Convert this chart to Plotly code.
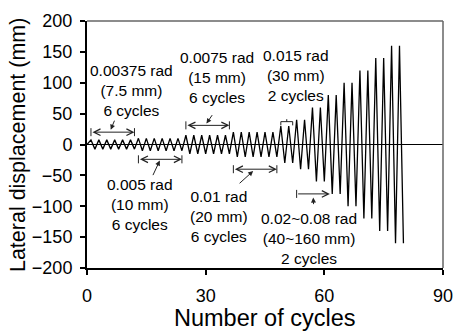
import plotly.graph_objects as go

# Loading protocol
amplitudes_mm = [7.5, 10, 15, 20, 30, 40, 60, 80, 100, 120, 140, 160]
cycles_per_level = [6, 6, 6, 6, 2, 2, 2, 2, 2, 2, 2, 2]

# Build the displacement history: each cycle spans two steps (+A then -A)
cycle_x = [0]
disp_y = [0.0]
step = 0
for amp, n in zip(amplitudes_mm, cycles_per_level):
    for _ in range(n):
        step += 1
        cycle_x.append(step)
        disp_y.append(amp)
        step += 1
        cycle_x.append(step)
        disp_y.append(-amp)

x_ticks = [0, 30, 60, 90]
y_ticks = [-200, -150, -100, -50, 0, 50, 100, 150, 200]

FONT = "Liberation Sans, Arial, sans-serif"

fig = go.Figure()
fig.add_trace(go.Scatter(x=cycle_x, y=disp_y, mode="lines",
                         line=dict(color="black", width=1.3),
                         showlegend=False, hoverinfo="skip"))

# Text labels: (text, x, y)
labels = [
    ("0.00375 rad<br>(7.5 mm)<br>6 cycles", 11.3, 88),
    ("0.0075 rad<br>(15 mm)<br>6 cycles", 32.8, 108),
    ("0.015 rad<br>(30 mm)<br>2 cycles", 52.8, 111),
    ("0.005 rad<br>(10 mm)<br>6 cycles", 13.3, -97),
    ("0.01 rad<br>(20 mm)<br>6 cycles", 33.4, -116),
    ("0.02~0.08 rad<br>(40~160 mm)<br>2 cycles", 56.0, -153),
]
annotations = []
for t, x, y in labels:
    annotations.append(dict(text=t, x=x, y=y, xref="x", yref="y", showarrow=False,
                            font=dict(family=FONT, size=15.5, color="black"),
                            align="center", xanchor="center", yanchor="middle"))

# Dimension lines (x_start, x_end, y, both_heads)
dims = [
    (1, 12, 20, True),
    (13, 24, -24, True),
    (25, 36, 31, True),
    (37, 48, -40, True),
    (53, 61.4, -80, False),
]
shapes = []
bar_h = 6.5
for x0, x1, y, both in dims:
    annotations.append(dict(text="", x=x1, y=y, ax=x0, ay=y, xref="x", yref="y",
                            axref="x", ayref="y", showarrow=True,
                            arrowhead=5, startarrowhead=5,
                            arrowside="end+start" if both else "end",
                            arrowsize=1.3, startarrowsize=1.3, arrowwidth=1,
                            arrowcolor="#222"))
    shapes.append(dict(type="line", xref="x", yref="y", x0=x0, x1=x0,
                       y0=y - bar_h, y1=y + bar_h, line=dict(color="#222", width=1)))
    if both:
        shapes.append(dict(type="line", xref="x", yref="y", x0=x1, x1=x1,
                           y0=y - bar_h, y1=y + bar_h, line=dict(color="#222", width=1)))

# 30 mm bracket
br_x0, br_x1, br_y = 49, 52, 37
shapes.append(dict(type="line", xref="x", yref="y", x0=br_x0, x1=br_x1, y0=br_y, y1=br_y,
                   line=dict(color="#222", width=1)))
for bx in (br_x0, br_x1):
    shapes.append(dict(type="line", xref="x", yref="y", x0=bx, x1=bx, y0=br_y, y1=br_y - 6,
                       line=dict(color="#222", width=1)))
shapes.append(dict(type="line", xref="x", yref="y", x0=50.5, x1=50.5, y0=br_y, y1=br_y + 4,
                   line=dict(color="#222", width=1)))

# Leader arrows (tail_x, tail_y, head_x, head_y)
leaders = [
    (7.1, 41, 6.0, 24),
    (16.5, -52, 18.4, -26),
    (31.9, 50, 30.2, 34),
    (38.2, -65, 42.0, -43),
    (57.3, -99, 57.2, -86),
]
for tx, ty, hx, hy in leaders:
    annotations.append(dict(text="", x=hx, y=hy, ax=tx, ay=ty, xref="x", yref="y",
                            axref="x", ayref="y", showarrow=True, arrowhead=2,
                            arrowsize=1.0, arrowwidth=1, arrowcolor="#222"))

# Axis titles
annotations.append(dict(text="Number of cycles", xref="paper", yref="paper", x=0.5, y=-0.202,
                        xanchor="center", yanchor="middle", showarrow=False,
                        font=dict(family=FONT, size=23.5, color="black")))
annotations.append(dict(text="Lateral displacement (mm)", xref="paper", yref="paper",
                        x=-0.195, y=0.5, textangle=-90, xanchor="center", yanchor="middle",
                        showarrow=False, font=dict(family=FONT, size=21.5, color="black")))

# Top & right frame in gray
shapes.append(dict(type="line", xref="paper", yref="paper", x0=0, x1=1, y0=1, y1=1,
                   line=dict(color="#666", width=1.5)))
shapes.append(dict(type="line", xref="paper", yref="paper", x0=1, x1=1, y0=0, y1=1,
                   line=dict(color="#666", width=1.5)))

fig.update_layout(
    width=455, height=333,
    margin=dict(l=87, r=12, t=21, b=65),
    paper_bgcolor="white", plot_bgcolor="white",
    font=dict(family=FONT, color="black"),
    annotations=annotations, shapes=shapes,
    xaxis=dict(range=[0, 90], tickvals=x_ticks, ticks="outside", ticklen=5, tickwidth=1.5,
               tickcolor="black", showline=True, linecolor="black", linewidth=2,
               showgrid=False, zeroline=False, tickfont=dict(size=18),
               ticklabelstandoff=5, automargin=False),
    yaxis=dict(range=[-200, 200], tickvals=y_ticks, ticks="outside", ticklen=5, tickwidth=1.5,
               tickcolor="black", showline=True, linecolor="black", linewidth=2,
               showgrid=False, zeroline=True, zerolinecolor="black", zerolinewidth=1,
               tickfont=dict(size=18), ticklabelstandoff=4, automargin=False),
)

fig.write_html("out.html")
